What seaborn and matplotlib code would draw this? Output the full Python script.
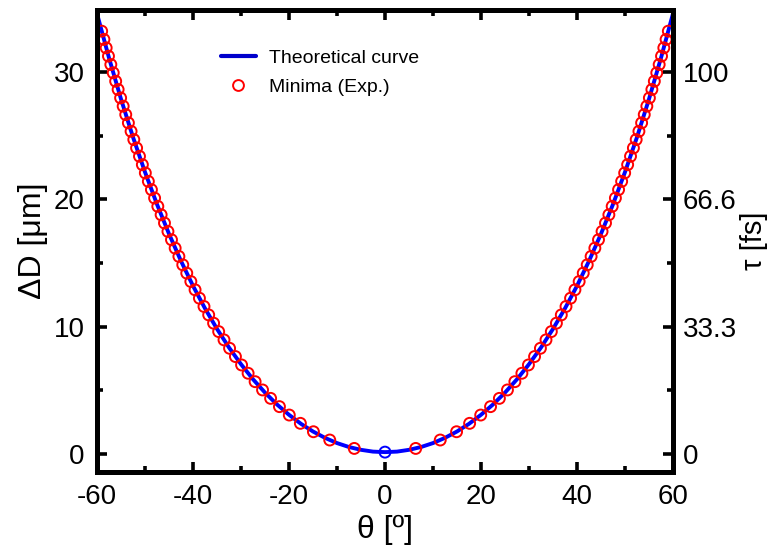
import matplotlib
matplotlib.use("Agg")
import matplotlib.pyplot as plt
from matplotlib.lines import Line2D
from matplotlib.ticker import MultipleLocator, FixedLocator
import seaborn as sns
import numpy as np

# ---------------- data ----------------
theory_theta = [-60, -57.5, -55, -52.5, -50, -47.5, -45, -42.5, -40, -37.5, -35, -32.5,
                -30, -27.5, -25, -22.5, -20, -17.5, -15, -12.5, -10, -7.5, -5, -2.5,
                0, 2.5, 5, 7.5, 10, 12.5, 15, 17.5, 20, 22.5, 25, 27.5, 30, 32.5, 35,
                37.5, 40, 42.5, 45, 47.5, 50, 52.5, 55, 57.5, 60]
theory_half = [0.15, 0.19, 0.33, 0.55, 0.86, 1.27, 1.77, 2.37, 3.08, 3.89, 4.82, 5.87,
               7.05, 8.36, 9.82, 11.43, 13.20, 15.15, 17.28, 19.60, 22.13, 24.87, 27.86,
               31.09, 34.57]
theory_dD = theory_half[::-1] + theory_half[1:]

minima_theta_pos = [6.40, 11.51, 14.91, 17.63, 19.94, 21.99, 23.83, 25.51, 27.06, 28.52,
                    29.88, 31.16, 32.38, 33.54, 34.65, 35.71, 36.73, 37.71, 38.66, 39.57,
                    40.45, 41.30, 42.13, 42.94, 43.72, 44.48, 45.22, 45.94, 46.64, 47.33,
                    48.00, 48.66, 49.30, 49.93, 50.55, 51.15, 51.75, 52.33, 52.90, 53.46,
                    54.01, 54.55, 55.08, 55.60, 56.11, 56.62, 57.12, 57.61, 58.09, 58.56,
                    59.03]
minima_dD_pos = [0.44, 1.10, 1.75, 2.41, 3.06, 3.72, 4.37, 5.03, 5.68, 6.34, 6.99, 7.65,
                 8.30, 8.96, 9.61, 10.27, 10.92, 11.58, 12.23, 12.89, 13.54, 14.20, 14.85,
                 15.51, 16.16, 16.82, 17.47, 18.13, 18.78, 19.44, 20.09, 20.75, 21.40,
                 22.06, 22.71, 23.37, 24.02, 24.68, 25.33, 25.99, 26.64, 27.30, 27.95,
                 28.61, 29.26, 29.92, 30.57, 31.23, 31.88, 32.54, 33.19]
minima_theta = [-t for t in minima_theta_pos[::-1]] + minima_theta_pos
minima_dD = minima_dD_pos[::-1] + minima_dD_pos

center_theta = [0]
center_dD = [0.15]

x_ticks = [-60, -40, -20, 0, 20, 40, 60]
y_ticks = [0, 10, 20, 30]
tau_ticks = [0, 33.3, 66.6, 100]
tau_labels = ["0", "33.3", "66.6", "100"]

# ---------------- style ----------------
sns.set_style("white")
plt.rcParams['font.family'] = ['Liberation Sans', 'DejaVu Sans']
plt.rcParams['axes.unicode_minus'] = False
for k in ['text.color', 'axes.labelcolor', 'xtick.color', 'ytick.color', 'axes.edgecolor']:
    plt.rcParams[k] = 'black'

fig = plt.figure(figsize=(7.72, 5.51), dpi=100)
ax = fig.add_axes([97 / 772, 1 - 472 / 551, 576 / 772, 462 / 551])

sns.lineplot(x=theory_theta, y=theory_dD, ax=ax, color="#0000ff", linewidth=2.8,
             sort=False, zorder=2)
sns.scatterplot(x=minima_theta, y=minima_dD, ax=ax, marker='o', s=62,
                facecolor='none', edgecolor='#ff0000', linewidth=1.4, zorder=3)
sns.scatterplot(x=center_theta, y=center_dD, ax=ax, marker='o', s=62,
                facecolor='none', edgecolor='#0000ff', linewidth=1.4, zorder=4)

ylo, yhi = -1.41, 34.85
ax.set_xlim(-60, 60)
ax.set_ylim(ylo, yhi)
ax.set_xticks(x_ticks)
ax.set_yticks(y_ticks)
ax.xaxis.set_minor_locator(MultipleLocator(10))
ax.yaxis.set_minor_locator(MultipleLocator(5))

for sp in ax.spines.values():
    sp.set_linewidth(3.6)
    sp.set_color('black')

ax.tick_params(which='both', direction='in', top=True, right=False, bottom=True,
               left=True, color='black', labelcolor='black')
ax.tick_params(which='major', length=7, width=2.6, labelsize=20, pad=9)
ax.tick_params(which='minor', length=4, width=2.6)

ax.set_xlabel("θ [º]", fontsize=23, labelpad=3, color='black')
ax.set_ylabel("ΔD [μm]", fontsize=23, labelpad=4, color='black')

ax2 = ax.twinx()
ax2.set_ylim(ylo * 10 / 3, yhi * 10 / 3)
ax2.yaxis.set_major_locator(FixedLocator(tau_ticks))
ax2.set_yticklabels(tau_labels)
ax2.yaxis.set_minor_locator(FixedLocator([16.65, 49.95, 83.25]))
ax2.tick_params(which='both', direction='in', right=True, left=False, color='black',
                labelcolor='black')
ax2.tick_params(which='major', length=7, width=2.6, labelsize=20, pad=7)
ax2.tick_params(which='minor', length=4, width=2.6)
for sp in ax2.spines.values():
    sp.set_linewidth(3.6)
    sp.set_color('black')
ax2.set_ylabel("τ [fs]", fontsize=21, labelpad=2, color='black')

handles = [Line2D([], [], color="#0000cc", linewidth=3.0),
           Line2D([], [], color='none', marker='o', markersize=7.8,
                  markerfacecolor='none', markeredgecolor='#ff0000', markeredgewidth=1.4)]
ax.legend(handles, ["Theoretical curve", "Minima (Exp.)"], loc='upper left',
          bbox_to_anchor=(0.215, 0.915), frameon=False, fontsize=14,
          handlelength=1.8, handletextpad=0.7, labelspacing=0.6, borderpad=0,
          borderaxespad=0)

fig.savefig("out.png", dpi=100)
